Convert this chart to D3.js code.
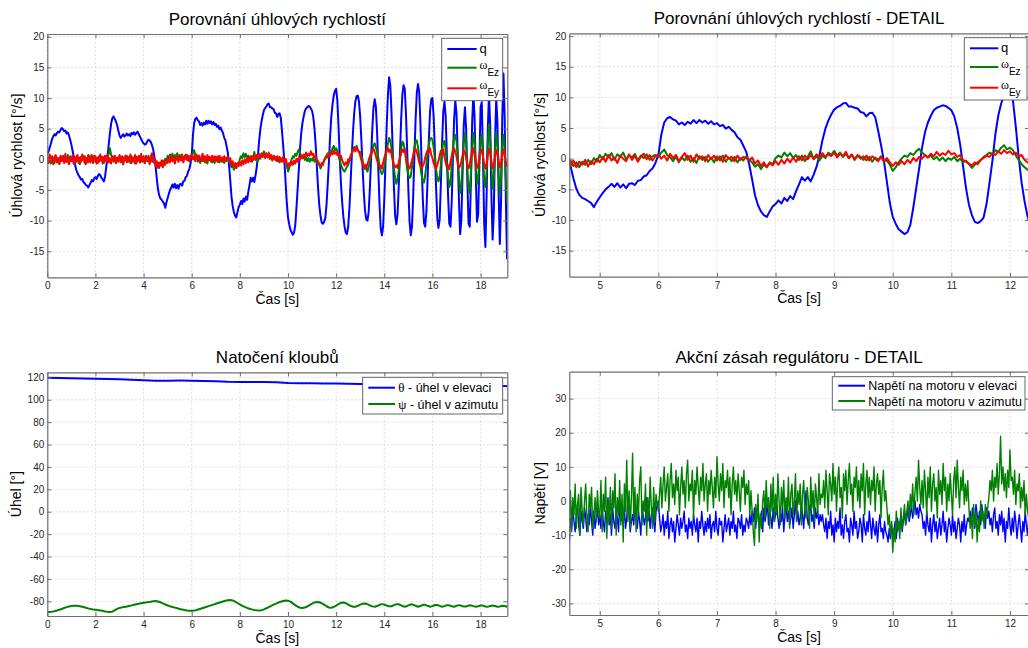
<!DOCTYPE html>
<html>
<head>
<meta charset="utf-8">
<script src="https://d3js.org/d3.v7.min.js"></script>
<style>
  body { margin: 0; background: #fff; }
  svg { display: block; font-family: "Liberation Sans", Arial, sans-serif; }
  .tick text { font-size: 10px; fill: #262626; }
</style>
</head>
<body>
<svg id="fig" width="1028" height="648"></svg>
<script>
// ---- data: angular rates [deg/s], sampled every 0.05 s from t = 0 ----
var RATE_T0 = 0, RATE_DT = 0.05;
var qRate = [
  0.8,1.3,1.9,2.6,3.3,3.8,4.1,3.9,4.3,4.5,4.4,4.8,5.1,4.9,4.6,4.7,4.2,4.4,3.9,3.2,
  2.4,1.4,0.4,-0.8,-1.7,-2.2,-2.6,-2.9,-3.3,-3.2,-3.7,-3.9,-4.2,-4.3,-4.6,-4.2,-3.8,-3.4,-3.6,-3.1,
  -2.9,-3.2,-2.7,-2.4,-2.6,-3.0,-3.3,-3.6,-2.8,-1.2,0.5,2.3,4.2,5.8,6.7,7.0,6.6,6.2,5.6,4.7,
  3.9,3.5,3.8,4.1,3.7,3.9,4.2,3.9,4.1,3.8,4.3,4.1,4.4,4.0,4.3,4.5,4.1,3.7,3.3,2.9,
  2.6,2.4,2.5,2.9,3.2,3.1,2.8,2.3,1.6,0.4,-1.2,-3.2,-4.9,-5.9,-6.4,-6.6,-6.9,-7.2,-7.9,-7.0,
  -6.3,-5.6,-5.0,-4.6,-4.1,-4.6,-4.0,-4.7,-4.2,-4.8,-4.1,-4.0,-4.3,-3.6,-3.5,-2.9,-2.7,-2.0,-1.6,-0.7,
  0.6,3.9,5.9,6.6,6.8,6.4,6.2,5.6,5.9,5.5,6.0,5.7,6.3,5.8,6.3,5.9,6.2,5.7,6.1,5.6,
  5.8,5.3,5.5,4.9,5.2,4.7,4.3,3.5,3.1,2.1,1.1,-0.9,-3.4,-6.0,-7.6,-8.6,-9.2,-9.5,-8.6,-7.8,
  -7.4,-6.8,-7.3,-6.4,-6.9,-6.1,-6.6,-5.3,-4.2,-3.0,-3.6,-3.0,-3.7,-2.6,-1.3,0.6,3.0,4.9,6.2,7.2,
  8.0,8.4,8.6,9.0,9.1,8.5,8.5,8.3,8.2,7.6,7.5,6.9,7.4,7.5,6.8,4.6,2.2,-0.4,-3.8,-7.2,
  -9.5,-10.6,-11.5,-11.9,-12.3,-12.0,-10.8,-8.0,-4.8,-1.6,1.8,4.3,5.9,7.0,7.9,8.3,8.5,8.7,8.6,8.3,
  7.9,6.9,5.0,2.3,-1.2,-4.8,-7.5,-9.2,-10.3,-10.5,-10.2,-9.6,-7.4,-4.0,-0.4,3.9,7.0,9.0,10.4,11.2,
  11.5,9.6,5.2,0.2,-4.0,-7.0,-9.4,-11.0,-12.0,-12.2,-11.0,-8.0,-3.8,0.6,4.5,7.6,9.5,10.3,10.4,9.4,
  6.8,3.0,-1.5,-5.5,-8.4,-9.8,-10.0,-8.6,-4.8,0.0,4.8,8.4,9.8,8.6,4.5,-1.5,-7.2,-11.2,-12.4,-11.0,
  -6.5,-0.5,5.5,10.5,13.4,12.0,7.5,1.5,-4.5,-9.2,-10.6,-9.0,-4.5,1.0,6.5,10.5,12.1,11.5,7.5,1.5,
  -5.0,-10.2,-12.4,-11.0,-6.0,0.5,6.5,10.8,12.3,11.0,6.0,-0.5,-6.5,-10.4,-11.0,-8.5,-3.0,3.0,7.8,9.8,
  10.0,7.0,1.5,-4.5,-9.5,-11.2,-9.8,-4.0,2.5,7.8,9.4,7.0,0.5,-6.0,-10.5,-11.0,-7.0,0.0,6.5,9.5,
  7.5,1.0,-6.5,-12.2,-10.0,-2.5,5.5,8.5,5.0,-3.5,-10.5,-11.0,-3.5,6.0,10.7,7.0,-2.5,-10.2,-9.0,-0.5,
  8.5,9.3,0.5,-10.5,-14.3,-6.0,5.0,10.7,5.5,-6.0,-13.1,-8.5,3.0,10.0,6.0,-5.5,-13.8,-7.0,6.5,14.0,
  7.0,-6.5,-16.3
];
var omegaEz = [
  0.6,-0.5,0.3,-0.7,0.4,0.1,-0.6,0.5,-0.3,0.2,-0.8,0.4,-0.2,0.6,-0.5,0.1,-0.4,0.7,-0.6,0.3,
  -0.2,0.5,-0.7,0.2,-0.4,0.6,-0.3,-0.8,0.4,-0.1,0.5,-0.6,0.3,-0.4,0.7,-0.2,-0.5,0.4,-0.3,0.6,
  -0.4,0.2,-0.6,0.5,-0.2,0.4,-0.7,0.3,-0.1,0.6,0.2,0.9,1.8,0.7,0.3,-0.4,0.5,-0.6,0.2,-0.3,
  0.5,-0.5,0.3,-0.8,0.4,-0.2,0.6,-0.4,0.2,-0.6,0.5,-0.1,0.3,-0.7,0.4,-0.3,0.6,-0.5,0.1,-0.4,
  0.5,-0.6,0.2,-0.3,0.6,-0.5,0.3,-0.4,0.4,-0.7,-0.3,-1.2,-0.6,-1.4,-0.5,-1.0,-0.2,-0.9,0.1,-0.5,
  0.6,-0.1,0.8,0.2,0.9,-0.2,0.7,0.3,1.0,-0.1,0.6,0.2,0.8,-0.3,0.5,0.1,0.7,-0.2,0.4,0.6,
  0.3,1.0,1.5,0.6,0.2,-0.4,0.3,-0.6,0.2,-0.3,0.5,-0.5,0.1,-0.7,0.4,-0.2,0.3,-0.5,0.2,-0.6,
  0.4,-0.3,0.5,-0.5,0.2,-0.4,0.3,-0.6,0.1,-0.3,0.4,-0.2,-0.6,-1.3,-0.9,-1.7,-1.0,-1.4,-0.6,-0.9,
  0.1,0.5,0.2,1.0,0.4,0.9,0.1,0.6,-0.2,0.5,-0.4,0.3,1.2,-0.1,0.4,-0.3,0.5,0.1,1.0,0.6,
  1.3,0.5,1.0,0.3,0.8,0.1,0.6,-0.2,0.5,0.0,0.4,-0.3,0.3,-0.5,0.2,-0.2,0.4,-0.4,-0.3,-1.0,
  -2.0,-1.4,-0.6,0.0,0.5,0.3,0.9,0.6,1.2,1.6,1.0,0.6,0.2,0.5,-0.1,0.3,-0.3,0.2,-0.4,0.1,
  -0.2,0.3,-0.4,0.0,-0.6,-0.3,-0.9,-1.5,-1.0,-0.6,-0.2,0.3,0.6,1.0,0.7,1.4,1.1,1.8,2.2,1.5,
  1.8,1.4,0.5,-0.2,-0.9,-1.4,-1.8,-2.0,-1.6,-1.2,-0.9,-0.2,0.3,1.0,1.6,2.0,1.8,2.2,1.6,1.2,
  1.2,0.5,-0.3,-1.1,-1.6,-1.4,-2.0,-1.2,-0.4,0.6,1.4,2.3,2.6,2.0,1.2,0.3,-1.0,-2.0,-2.4,-2.0,
  -1.2,0.2,1.4,2.6,3.5,3.0,1.8,0.3,-1.5,-3.0,-4.0,-3.2,-1.8,0.0,1.8,2.9,2.6,1.5,0.0,-1.5,
  -2.6,-3.0,-2.8,-1.2,0.5,2.0,3.0,3.1,2.0,0.5,-1.2,-2.6,-3.6,-3.8,-2.6,-0.8,1.0,2.4,3.3,3.5,
  3.2,2.0,0.2,-1.6,-3.0,-3.6,-2.8,-0.8,1.4,2.8,3.0,1.6,-0.8,-3.0,-4.5,-3.8,-1.2,1.8,3.6,4.0,
  3.0,0.5,-2.8,-5.5,-4.5,-1.0,2.5,4.3,2.8,-1.5,-5.0,-5.5,-2.0,2.0,4.3,3.0,-1.0,-4.0,-3.5,0.0,
  3.5,4.0,0.5,-3.5,-4.5,-2.0,2.5,5.7,3.0,-1.0,-4.8,-3.0,1.5,4.5,2.5,-2.5,-5.8,-3.0,2.5,4.0,
  1.5,-3.5,-7.0
];
var omegaEy = [
  0.4,-0.6,0.8,-0.2,0.5,-0.8,0.3,0.7,-0.5,0.2,-0.7,0.6,-0.3,0.4,-0.6,0.9,-0.4,0.1,-0.8,0.5,
  -0.3,0.6,-0.7,0.4,-0.1,0.7,-0.6,0.3,-0.4,0.8,-0.2,0.5,-0.8,0.2,-0.5,0.6,-0.3,0.7,-0.6,0.1,
  0.5,-0.7,0.3,-0.4,0.8,-0.2,0.4,-0.6,0.6,-0.3,0.7,-0.5,0.2,-0.7,0.5,-0.1,0.6,-0.6,0.3,-0.4,
  0.7,-0.3,0.5,-0.8,0.2,0.6,-0.5,0.4,-0.2,0.8,-0.6,0.3,-0.4,0.7,-0.7,0.2,0.5,-0.5,0.9,-0.3,
  0.4,-0.6,0.6,-0.2,0.3,-0.8,0.5,1.0,-0.4,0.2,-1.1,-0.3,-1.4,-0.5,-1.0,-0.2,-1.3,-0.4,-0.9,0.0,
  -0.6,0.3,-0.5,0.6,-0.3,0.2,-0.7,0.5,0.0,-0.4,0.7,-0.2,0.5,-0.5,0.3,0.8,-0.1,0.6,-0.3,0.4,
  0.7,0.0,0.5,-0.3,0.8,0.1,0.6,-0.4,0.3,0.9,-0.2,0.5,-0.5,0.7,0.0,0.4,-0.4,0.6,-0.1,0.5,
  -0.3,0.4,-0.5,0.6,0.0,0.3,-0.4,0.5,-0.2,0.3,0.1,-0.3,0.2,-0.8,-0.3,-1.2,-0.6,-1.4,-0.7,-1.1,
  -0.4,-1.0,-0.2,-0.8,0.0,-0.6,0.2,-0.5,0.4,-0.3,0.5,-0.1,0.6,0.0,0.7,0.2,0.9,0.3,0.7,0.4,
  1.0,0.2,0.8,0.4,1.1,0.1,0.7,-0.1,0.6,0.3,-0.2,0.5,-0.3,0.4,0.0,-0.4,0.3,-0.5,0.1,-0.6,
  -1.2,-0.6,-1.0,-0.4,-0.9,-0.2,-0.7,0.1,-0.4,0.3,0.0,0.6,0.2,0.8,0.4,1.1,0.5,0.9,0.6,1.3,
  0.7,0.9,0.3,0.6,-0.2,-0.5,-0.8,-1.1,-0.6,-0.9,-0.2,0.1,0.5,0.3,0.9,0.6,1.2,0.8,1.4,0.9,
  1.2,0.7,1.0,0.4,0.6,-0.2,-0.6,-1.0,-0.5,-0.8,0.0,-0.3,0.6,1.0,1.4,1.8,1.3,2.0,1.5,1.2,
  0.6,-0.2,-0.8,-1.3,-0.9,-1.4,-0.7,-0.2,0.5,1.0,1.4,1.7,1.2,0.6,-0.2,-0.8,-1.2,-1.0,-1.5,-0.6,
  0.2,0.9,1.5,1.8,1.2,1.6,0.8,-0.2,-0.9,-1.3,-1.0,-1.4,-0.5,0.3,1.0,1.6,1.2,1.7,0.5,-0.4,
  -1.1,-1.5,-0.9,-0.2,0.6,1.3,1.7,1.2,0.4,-0.5,-1.0,-1.4,-1.1,-0.6,0.3,1.0,1.5,1.2,1.8,0.7,
  0.2,-0.6,-1.2,-1.6,-0.9,-0.3,0.6,1.4,1.0,1.6,0.4,-0.5,-1.3,-1.0,-1.6,-0.4,0.5,1.3,1.8,1.1,
  0.5,-0.6,-1.4,-1.1,-0.4,0.6,1.5,1.1,0.2,-0.9,-1.5,-0.8,0.3,1.2,1.8,0.7,-0.5,-1.4,-0.9,0.4,
  1.3,1.6,0.5,-0.8,-1.5,-0.6,0.7,1.7,1.0,-0.4,-1.4,-1.0,0.3,1.5,1.2,-0.2,-1.3,-0.8,0.6,1.6,
  0.8,-0.5,-1.2
];

// ---- data: joint angles [deg] ----
var THETA_T0 = 0, THETA_DT = 0.5;
var thetaAngle = [
  119.6,119.4,119.1,118.9,118.7,118.6,118.3,117.9,117.4,117.0,
  117.0,117.1,117.0,116.8,116.4,116.0,115.9,115.9,115.8,115.6,
  115.0,114.8,114.8,114.6,114.5,114.2,114.0,113.8,113.7,113.5,
  113.4,113.2,113.0,112.9,112.8,112.6,112.5,112.3,112.2,112.0
];
var PSI_T0 = 0, PSI_DT = 0.1;
var psiAngle = [
  -89.6,-89.5,-89.2,-88.8,-88.2,-87.5,-86.8,-86.0,-85.2,-84.6,
  -84.2,-84.0,-84.0,-84.2,-84.6,-85.1,-85.7,-86.3,-86.8,-87.2,
  -87.5,-87.8,-88.1,-88.5,-89.0,-89.4,-89.6,-89.2,-88.0,-86.8,
  -85.9,-85.4,-85.0,-84.6,-84.1,-83.6,-83.1,-82.6,-82.1,-81.7,
  -81.3,-81.0,-80.7,-80.3,-80.0,-79.8,-80.1,-80.8,-81.8,-82.8,
  -83.7,-84.4,-85.0,-85.6,-86.2,-86.8,-87.3,-87.8,-88.2,-88.4,
  -88.5,-88.3,-87.8,-87.1,-86.4,-85.7,-85.0,-84.3,-83.6,-82.9,
  -82.2,-81.5,-80.8,-80.1,-79.5,-79.1,-78.9,-79.2,-80.2,-81.5,
  -82.8,-84.0,-85.0,-85.9,-86.6,-87.2,-87.7,-88.0,-88.1,-87.9,
  -87.2,-86.2,-85.1,-84.0,-83.0,-82.0,-81.1,-80.3,-79.7,-79.3,
  -79.4,-80.3,-81.8,-83.4,-84.8,-85.7,-86.0,-85.6,-84.6,-83.3,
  -82.0,-81.0,-80.6,-80.8,-81.7,-83.0,-84.4,-85.5,-85.7,-85.0,
  -83.8,-82.4,-81.3,-81.0,-81.6,-82.9,-84.1,-84.8,-84.8,-84.0,
  -82.9,-82.1,-81.9,-82.5,-83.6,-84.5,-84.8,-84.2,-83.1,-82.5,
  -82.8,-83.7,-84.5,-84.4,-83.4,-82.5,-82.6,-83.6,-84.6,-84.7,
  -83.6,-82.7,-83.0,-84.0,-84.8,-84.2,-83.1,-83.1,-84.0,-84.8,
  -84.3,-83.3,-83.2,-84.1,-84.8,-84.3,-83.4,-83.6,-84.4,-84.8,
  -84.0,-83.4,-84.0,-84.7,-84.6,-83.8,-83.6,-84.3,-84.8,-84.4,
  -83.7,-83.8,-84.6,-84.9,-84.1,-83.8,-84.2,-84.8,-84.6,-84.0,
  -84.2,-84.9
];

// ---- data: motor voltages [V], every 0.02 s from t = 4.48 ----
var U_T0 = 4.48, U_DT = 0.02;
var uElevation = [
  -12,-5,-8,-2,-6,-9,-4,-1,-7,-10,-3,-6,-8,-2,-5,-9,-4,-7,-1,-6,-10,-3,-8,-5,-2,-7,
  -4,-8,-2,-6,-9,-3,-5,1,-7,-4,-10,-2,-6,-8,-3,-5,-9,0,-6,-4,-7,-2,-8,-5,
  1,-3,-9,-6,-4,-7,-1,-5,-8,-3,-6,-10,-2,-4,-7,-5,1,-6,-3,-8,-4,-2,-6,-9,-3,-1,
  0,
  -5,-9,-7,-4,-10,-6,-8,-3,-11,-7,-5,-9,-6,-12,-8,-4,-7,-10,-5,-8,
  -6,-3,-9,-7,-11,-5,-8,-6,-10,-4,-7,-9,-5,-12,-6,-8,-3,-7,-10,-6,
  -9,-5,-8,-4,-11,-7,-6,-9,-3,-8,-10,-5,-7,-6,-12,-8,-4,-9,-7,-5,
  -10,-6,-8,-3,-9,-7,-11,-5,-6,-8,-4,-10,-7,-9,-5,-6,-8,-4,-7,
  -3,-6,-2,-8,-4,-1,-7,-5,-3,-9,-2,-6,-4,0,-7,-3,-5,-8,-2,-6,
  -4,-1,-5,-8,-3,-6,-2,-9,-4,-1,-6,-3,-7,-5,-2,-8,-4,0,-6,-3,
  -7,-5,-1,-4,-8,-2,3,-5,-7,-3,-1,-6,-4,-8,-2,-5,-3,-7,-4,-6,
  -4,-7,-9,-5,-11,-6,-8,-3,-10,-7,-12,-5,-9,-6,-8,-2,-10,-7,-11,-6,
  -4,-9,-8,-12,-5,-7,-10,-3,-8,-6,-11,-9,-5,-7,-12,-4,-8,-10,-6,-9,
  -3,-7,-11,-5,-8,-10,-6,-12,-7,-4,-9,-8,-11,-6,-9,
  -10,-12,-8,-11,-7,-10,-9,-6,-11,-5,-8,-7,-4,-9,-6,-3,-7,-5,-2,-6,
  -4,-1,-5,-3,0,-4,-2,-5,-1,-3,
  -4,-8,-6,-10,-3,-7,-9,-5,-12,-7,-4,-9,-6,-11,-8,-5,-10,-7,-3,-9,
  -6,-12,-8,-5,-7,-10,-4,-9,-6,-11,-8,-5,-7,-12,-6,-9,-4,-10,-7,-5,
  -6,-3,-7,-2,-5,-8,-1,-4,-6,-3,-7,-1,-5,-4,-8,-2,-5,
  -3,-7,-5,-9,-4,-2,-8,-6,-10,-4,-7,-3,-9,-5,-12,-6,-8,-2,-7,-10,
  -5,-9,-3,-6,-11,-7,-4,-8,-12,-6,-9,-3,-7,-10,-5
];
var uAzimuth = [
  -6,3,-9,1,-4,5,-8,-1,2,-10,4,-3,-7,0,5,-5,-9,2,-2,4,-8,-4,1,-6,3,-3,
  -5,6,-9,2,-3,7,-11,0,-6,4,-8,3,-2,8,-10,1,-4,6,-7,2,-12,5,-3,12,
  -6,3,-8,1,14,-5,4,-9,2,-4,6,10,-7,0,-3,5,-10,1,-5,7,-2,-8,4,-6,2,-1,
  -3,
  2,7,-2,5,10,0,4,8,-3,6,11,1,5,-1,9,3,7,-4,4,10,
  2,6,-2,8,12,0,5,3,9,-5,6,2,10,4,-1,7,3,11,0,5,
  8,-3,6,2,9,4,-2,7,1,13,5,0,8,3,11,-2,6,4,9,1,
  7,-4,5,10,2,6,0,8,3,-3,7,4,9,-1,5,2,6,-4,3,
  -3,-9,-13,-1,-6,2,-12,-4,-8,0,
  3,-5,6,-2,1,-8,5,-3,7,-6,2,-4,8,0,-7,4,-2,6,-5,1,
  -3,7,-8,2,5,-4,0,8,-6,3,-1,5,-7,2,6,-3,-5,4,0,-8,
  7,-2,3,-6,5,1,-4,8,-1,2,
  1,6,-2,9,3,-4,8,5,0,11,2,7,-3,6,10,1,4,-5,8,3,
  9,-1,6,11,2,5,-3,7,4,10,0,6,-2,8,3,11,-4,5,9,1,
  7,-1,6,3,10,-3,5,8,2,6,-5,4,9,0,3,
  -2,-7,-4,-10,-6,-15,-8,-12,-3,-9,-6,-11,-2,-8,-5,-1,-7,-3,0,-5,
  2,-2,5,-4,3,7,0,12,4,-1,
  6,-2,9,3,-4,7,1,10,-3,5,8,0,4,-5,9,2,6,-1,11,3,
  7,-3,5,0,8,2,-4,6,10,1,12,4,-2,7,3,9,-1,5,0,6,
  -2,-8,-4,-11,-1,-7,-3,-12,-5,-9,0,-6,-3,-8,-1,-5,-2,
  1,6,3,9,0,7,4,11,2,8,19,5,10,3,8,1,9,4,15,6,
  7,2,9,-1,5,3,8,-2,4,0,6,-4,2,-3,-5
];

// tick values
var fullTimeTicks = [0, 2, 4, 6, 8, 10, 12, 14, 16, 18];
var detailTimeTicks = [5, 6, 7, 8, 9, 10, 11, 12];
var rateTicks = [-15, -10, -5, 0, 5, 10, 15, 20];
var angleTicks = [-80, -60, -40, -20, 0, 20, 40, 60, 80, 100, 120];
var voltTicks = [-30, -20, -10, 0, 10, 20, 30];

var BLUE = "#0000ff", GREEN = "#008000", RED = "#ff0000";
var AXIS = "#6e6e6e";

var svg = d3.select("#fig");
svg.append("rect").attr("width", 1028).attr("height", 648).attr("fill", "#fff");
var defs = svg.append("defs");

function drawPanel(p) {
  var g = svg.append("g");
  var x = d3.scaleLinear().domain(p.xDom).range([p.left, p.right]);
  var y = d3.scaleLinear().domain(p.yDom).range([p.bottom, p.top]);

  g.append("rect")
    .attr("x", p.left).attr("y", p.top)
    .attr("width", p.right - p.left).attr("height", p.bottom - p.top)
    .attr("fill", "#fff");

  // dotted grid
  g.selectAll(null).data(p.xTicks).join("line")
    .attr("x1", function (d) { return x(d); }).attr("x2", function (d) { return x(d); })
    .attr("y1", p.top).attr("y2", p.bottom)
    .attr("stroke", "#d6d6d6").attr("stroke-width", 0.8).attr("stroke-dasharray", "2,2");
  g.selectAll(null).data(p.yTicks).join("line")
    .attr("y1", function (d) { return y(d); }).attr("y2", function (d) { return y(d); })
    .attr("x1", p.left).attr("x2", p.right)
    .attr("stroke", "#d6d6d6").attr("stroke-width", 0.8).attr("stroke-dasharray", "2,2");

  defs.append("clipPath").attr("id", "clip-" + p.id)
    .append("rect")
    .attr("x", p.left).attr("y", p.top)
    .attr("width", p.right - p.left).attr("height", p.bottom - p.top);

  p.series.forEach(function (s) {
    var line = d3.line()
      .x(function (d, i) { return x(s.t0 + i * s.dt); })
      .y(function (d) { return y(d); });
    g.append("path")
      .datum(s.values)
      .attr("clip-path", "url(#clip-" + p.id + ")")
      .attr("d", line)
      .attr("fill", "none")
      .attr("stroke", s.color)
      .attr("stroke-width", s.width)
      .attr("stroke-linejoin", "round");
  });

  // matlab style box with inward ticks
  var fmt = function (d) { return String(d); };
  var none = function () { return ""; };
  var axes = [
    g.append("g").attr("transform", "translate(0," + p.bottom + ")")
      .call(d3.axisBottom(x).tickValues(p.xTicks).tickFormat(fmt).tickSizeInner(-4).tickSizeOuter(0).tickPadding(5)),
    g.append("g").attr("transform", "translate(0," + p.top + ")")
      .call(d3.axisTop(x).tickValues(p.xTicks).tickFormat(none).tickSizeInner(-4).tickSizeOuter(0)),
    g.append("g").attr("transform", "translate(" + p.left + ",0)")
      .call(d3.axisLeft(y).tickValues(p.yTicks).tickFormat(fmt).tickSizeInner(-4).tickSizeOuter(0).tickPadding(3)),
    g.append("g").attr("transform", "translate(" + p.right + ",0)")
      .call(d3.axisRight(y).tickValues(p.yTicks).tickFormat(none).tickSizeInner(-4).tickSizeOuter(0))
  ];
  axes.forEach(function (a) {
    a.select(".domain").attr("stroke", AXIS).attr("stroke-width", 1.2);
    a.selectAll(".tick line").attr("stroke", AXIS);
    a.selectAll(".tick text").attr("font-family", "'Liberation Sans', Arial, sans-serif");
  });

  var cx = (p.left + Math.min(p.right, 1028.7)) / 2;
  svg.append("text").attr("x", cx).attr("y", p.titleY)
    .attr("text-anchor", "middle").attr("font-size", 17).attr("fill", "#000")
    .text(p.title);
  svg.append("text").attr("x", cx).attr("y", p.xLabelY)
    .attr("text-anchor", "middle").attr("font-size", 14).attr("fill", "#000")
    .text("Čas [s]");
  svg.append("text")
    .attr("transform", "translate(" + p.yLabelX + "," + ((p.top + p.bottom) / 2) + ") rotate(-90)")
    .attr("text-anchor", "middle").attr("font-size", 14).attr("fill", "#000")
    .text(p.yLabel);

  // legend
  var L = p.legend;
  var lg = svg.append("g");
  lg.append("rect").attr("x", L.x).attr("y", L.y).attr("width", L.w).attr("height", L.h)
    .attr("fill", "#fff").attr("stroke", "#555").attr("stroke-width", 0.9);
  L.rows.forEach(function (r) {
    lg.append("line").attr("x1", L.lineX0).attr("x2", L.lineX1)
      .attr("y1", r.y).attr("y2", r.y)
      .attr("stroke", r.color).attr("stroke-width", 2);
    var t = lg.append("text").attr("x", L.textX).attr("y", r.y + r.base)
      .attr("font-size", L.size).attr("fill", "#000");
    r.parts.forEach(function (pt) {
      var ts = t.append("tspan").text(pt.t);
      if (pt.serif) ts.attr("font-family", "'Liberation Serif', 'DejaVu Serif', serif");
      if (pt.size) ts.attr("font-size", pt.size);
      if (pt.dy) ts.attr("dy", pt.dy);
    });
  });
}

var omegaParts = function (sub) {
  return [{ t: "ω", serif: true, size: 12 }, { t: sub, size: 10, dy: 7 }];
};

// top left: angular rates, full record
drawPanel({
  id: "tl", left: 47.3, right: 507.3, top: 34, bottom: 277.3,
  xDom: [0, 19.11], yDom: [-19.25, 20.45],
  xTicks: fullTimeTicks, yTicks: rateTicks,
  title: "Porovnání úhlových rychlostí", titleY: 25, xLabelY: 303.5,
  yLabel: "Úhlová rychlost [°/s]", yLabelX: 22,
  series: [
    { values: qRate, t0: RATE_T0, dt: RATE_DT, color: BLUE, width: 2 },
    { values: omegaEz, t0: RATE_T0, dt: RATE_DT, color: GREEN, width: 2 },
    { values: omegaEy, t0: RATE_T0, dt: RATE_DT, color: RED, width: 2 }
  ],
  legend: {
    x: 441.7, y: 38.3, w: 61, h: 62.4, lineX0: 447.3, lineX1: 476.7, textX: 479.5, size: 13,
    rows: [
      { y: 49, color: BLUE, base: 3.5, parts: [{ t: "q" }] },
      { y: 67.7, color: GREEN, base: 1, parts: omegaParts("Ez") },
      { y: 88.3, color: RED, base: 1, parts: omegaParts("Ey") }
    ]
  }
});

// top right: angular rates, detail
drawPanel({
  id: "tr", left: 569.3, right: 1029, top: 33.3, bottom: 276.7,
  xDom: [4.48, 12.325], yDom: [-19.25, 20.45],
  xTicks: detailTimeTicks, yTicks: rateTicks,
  title: "Porovnání úhlových rychlostí - DETAIL", titleY: 24, xLabelY: 303,
  yLabel: "Úhlová rychlost [°/s]", yLabelX: 545,
  series: [
    { values: qRate, t0: RATE_T0, dt: RATE_DT, color: BLUE, width: 2 },
    { values: omegaEz, t0: RATE_T0, dt: RATE_DT, color: GREEN, width: 2 },
    { values: omegaEy, t0: RATE_T0, dt: RATE_DT, color: RED, width: 2 }
  ],
  legend: {
    x: 964.3, y: 37.7, w: 62.7, h: 62.3, lineX0: 970, lineX1: 998.3, textX: 1001, size: 13,
    rows: [
      { y: 48.3, color: BLUE, base: 3.5, parts: [{ t: "q" }] },
      { y: 67, color: GREEN, base: 1, parts: omegaParts("Ez") },
      { y: 87.7, color: RED, base: 1, parts: omegaParts("Ey") }
    ]
  }
});

// bottom left: joint angles
drawPanel({
  id: "bl", left: 47.3, right: 507.3, top: 372.3, bottom: 616,
  xDom: [0, 19.11], yDom: [-93.1, 124.5],
  xTicks: fullTimeTicks, yTicks: angleTicks,
  title: "Natočení kloubů", titleY: 363.3, xLabelY: 642.5,
  yLabel: "Úhel [°]", yLabelX: 20.5,
  series: [
    { values: thetaAngle, t0: THETA_T0, dt: THETA_DT, color: BLUE, width: 2 },
    { values: psiAngle, t0: PSI_T0, dt: PSI_DT, color: GREEN, width: 2 }
  ],
  legend: {
    x: 362.7, y: 377.3, w: 140, h: 36.7, lineX0: 368.3, lineX1: 395, textX: 398.3, size: 12.5,
    rows: [
      { y: 387.7, color: BLUE, base: 4.5, parts: [{ t: "θ", serif: true, size: 13 }, { t: " - úhel v elevaci" }] },
      { y: 404, color: GREEN, base: 4.5, parts: [{ t: "ψ", serif: true, size: 13 }, { t: " - úhel v azimutu" }] }
    ]
  }
});

// bottom right: controller output, detail
drawPanel({
  id: "br", left: 569.3, right: 1029, top: 371.7, bottom: 615,
  xDom: [4.48, 12.325], yDom: [-33.4, 37.9],
  xTicks: detailTimeTicks, yTicks: voltTicks,
  title: "Akční zásah regulátoru - DETAIL", titleY: 362.7, xLabelY: 642,
  yLabel: "Napětí [V]", yLabelX: 545,
  series: [
    { values: uElevation, t0: U_T0, dt: U_DT, color: BLUE, width: 1.4 },
    { values: uAzimuth, t0: U_T0, dt: U_DT, color: GREEN, width: 1.4 }
  ],
  legend: {
    x: 832.3, y: 376.7, w: 192.7, h: 33.3, lineX0: 838.3, lineX1: 865, textX: 868.3, size: 12.5,
    rows: [
      { y: 385.7, color: BLUE, base: 4.5, parts: [{ t: "Napětí na motoru v elevaci" }] },
      { y: 401, color: GREEN, base: 4.5, parts: [{ t: "Napětí na motoru v azimutu" }] }
    ]
  }
});
</script>
</body>
</html>
